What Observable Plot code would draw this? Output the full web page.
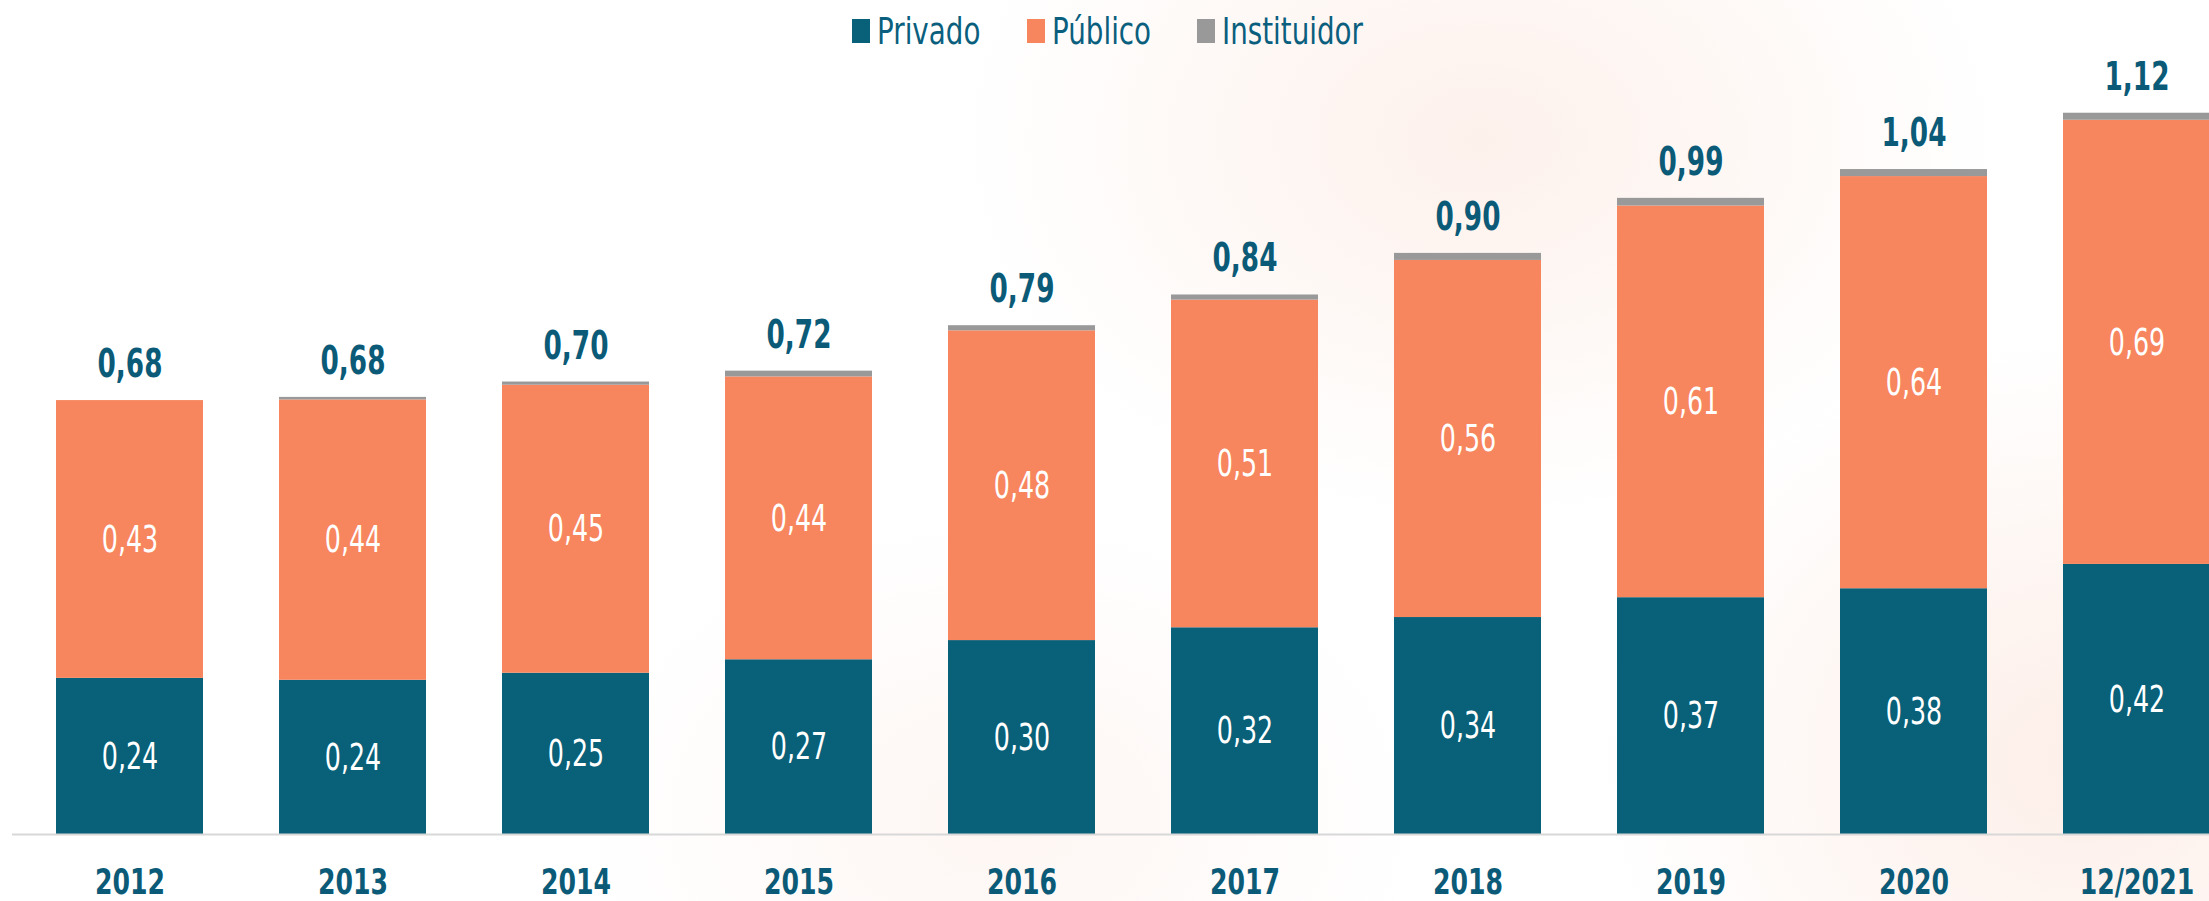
<!DOCTYPE html>
<html>
<head>
<meta charset="utf-8">
<script src="https://cdn.jsdelivr.net/npm/d3@7"></script>
<script src="https://cdn.jsdelivr.net/npm/@observablehq/plot@0.6"></script>
<style>
  html, body { margin: 0; padding: 0; }
  body {
    width: 2209px; height: 901px; overflow: hidden;
    background:
      radial-gradient(ellipse 520px 380px at 1480px 140px, rgba(249, 205, 185, 0.28), rgba(255,255,255,0)),
      radial-gradient(ellipse 480px 420px at 2080px 760px, rgba(249, 200, 180, 0.30), rgba(255,255,255,0)),
      radial-gradient(ellipse 420px 300px at 1000px 820px, rgba(249, 210, 195, 0.20), rgba(255,255,255,0)),
      #ffffff;
    font-family: "DejaVu Sans", sans-serif;
  }
  #legend { box-sizing: border-box; height: 56px; padding-top: 6px; display: flex; justify-content: center; align-items: center; gap: 46px; margin-left: 6px; }
  .item { display: flex; align-items: center; }
  .sw { display: inline-block; width: 18px; height: 24px; margin-right: 7px; }
  .labwrap { display: inline-block; overflow: visible; white-space: nowrap; }
  .lab { display: inline-block; font-size: 38px; color: #0B5F7E; transform: scaleX(0.73); transform-origin: 0 50%; white-space: nowrap; }
  #chart svg { display: block; background: transparent; }
</style>
</head>
<body>
<div id="legend"></div>
<div id="chart"></div>
<script>
const years = ["2012", "2013", "2014", "2015", "2016", "2017", "2018", "2019", "2020", "12/2021"];
const privado = [0.244, 0.241, 0.252, 0.273, 0.303, 0.323, 0.339, 0.370, 0.384, 0.422];
const publico = [0.434, 0.438, 0.450, 0.442, 0.484, 0.512, 0.558, 0.612, 0.644, 0.694];
const instituidor = [0.000, 0.004, 0.005, 0.009, 0.008, 0.008, 0.011, 0.012, 0.011, 0.011];
const totalLabels = [0.68, 0.68, 0.70, 0.72, 0.79, 0.84, 0.90, 0.99, 1.04, 1.12];
const series = ["Privado", "Público", "Instituidor"];
const colors = ["#086079", "#F7855E", "#999999"];

const rows = years.flatMap((year, i) => [
  {year, series: "Privado", value: privado[i]},
  {year, series: "Público", value: publico[i]},
  {year, series: "Instituidor", value: instituidor[i]}
]);
const totals = years.map((year, i) => ({
  year,
  total: privado[i] + publico[i] + instituidor[i],
  label: totalLabels[i]
}));
const fmt = v => v.toFixed(2).replace(".", ",");
const textColor = "#0B5B78";

// Legend (HTML, above the SVG), colours from the Plot color scale
const chart = Plot.plot({
  width: 2209,
  height: 845,
  marginTop: 10,
  marginBottom: 67,
  marginLeft: 12,
  marginRight: 0,
  x: {domain: years, range: [12, 2254], paddingInner: 0.339, paddingOuter: 0.174},
  y: {domain: [0, 1.2], axis: null},
  color: {domain: series, range: colors},
  style: {fontFamily: '"DejaVu Sans", sans-serif', background: "transparent"},
  marks: [
    Plot.barY(rows, {x: "year", y: "value", fill: "series"}),
    Plot.text(rows, Plot.stackY({
      x: "year", y: "value", z: "series",
      text: d => d.series === "Instituidor" ? "" : fmt(d.value),
      fill: "white", fontSize: 38
    })),
    Plot.ruleY([0], {stroke: "#d8d8d8", strokeWidth: 2}),
    Plot.text(totals, {
      x: "year", y: "total", text: d => fmt(d.label),
      dy: -36, fontSize: 39, fontWeight: "bold", fill: textColor
    }),
    Plot.axisX({
      tickSize: 0, tickPadding: 34, fontSize: 36, fontWeight: "bold",
      fill: textColor, lineAnchor: "top", label: null
    })
  ]
});

const colorScale = chart.scale("color");
const legendDiv = document.getElementById("legend");
series.forEach(s => {
  const item = document.createElement("span");
  item.className = "item";
  const sw = document.createElement("span");
  sw.className = "sw";
  sw.style.background = colorScale.apply(s);
  const wrap = document.createElement("span");
  wrap.className = "labwrap";
  const lab = document.createElement("span");
  lab.className = "lab";
  lab.textContent = s;
  wrap.appendChild(lab);
  item.appendChild(sw);
  item.appendChild(wrap);
  legendDiv.appendChild(item);
});
document.getElementById("chart").appendChild(chart);

// Narrow the text horizontally (condensed face not installed)
legendDiv.querySelectorAll(".labwrap").forEach(w => {
  const lab = w.firstChild;
  w.style.width = lab.getBoundingClientRect().width + "px";
});
chart.querySelectorAll("text").forEach(t => {
  const g = t.closest("g[font-size]");
  const fs = g ? +g.getAttribute("font-size") : 0;
  const bold = g && g.getAttribute("font-weight") === "bold";
  let sx = 1;
  if (fs === 39 && bold) sx = 0.675;
  else if (fs === 36 && bold) sx = 0.70;
  else if (fs === 38) sx = 0.667;
  if (sx === 1) return;
  const x = parseFloat(t.getAttribute("x")) || 0;
  const T = t.getAttribute("transform") || "";
  t.removeAttribute("x");
  t.setAttribute("transform", `${T} translate(${x},0) scale(${sx},1)`);
});
</script>
</body>
</html>
